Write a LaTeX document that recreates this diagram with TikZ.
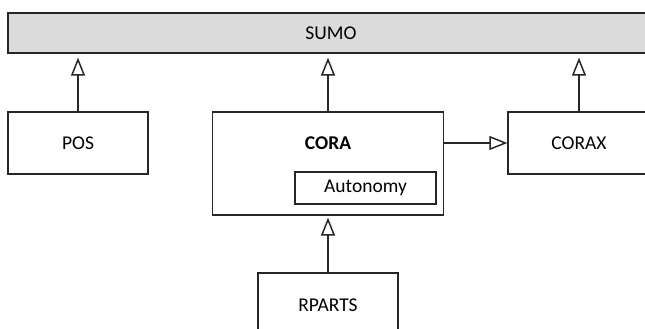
\documentclass[tikz,border=0pt]{standalone}
\usepackage{fontspec}
\setmainfont{Carlito}
\usetikzlibrary{arrows.meta}
\begin{document}
\begin{tikzpicture}[x=1pt,y=-1pt,
  font=\fontsize{19.5}{22}\selectfont,
  box/.style={draw=black!85, line width=1.3pt, fill=white, inner sep=0pt, minimum width=140pt, minimum height=62pt},
  bar/.style={draw=black!85, line width=1.3pt, fill=black!14!white, inner sep=0pt, minimum width=646pt, minimum height=40pt},
  gen/.style={draw=black!85, line width=1.8pt, -{Triangle[open, length=18pt, width=14pt, line width=1.5pt]}}
]
\useasboundingbox (0,0) rectangle (645,329);
\clip (0,0) rectangle (645,329);

% top-level ontology bar
\node[bar] (sumo) at (331,33) {SUMO};

% modules
\node[box] (pos) at (78,143) {POS};
\node[box, minimum width=231pt, minimum height=103pt] (cora) at (328,163.5) {};
\node[font=\fontsize{19.5}{22}\selectfont\bfseries] (coralbl) at (328,143) {CORA};
\node[box, minimum width=141pt, minimum height=32pt] (auto) at (365.5,188) {Autonomy};
\node[box, minimum width=142pt] (corax) at (579,143) {CORAX};
\node[box, minimum height=64pt] (rparts) at (328,305) {RPARTS};

% generalisation links
\draw[gen, shorten >=4pt] (pos.north) -- (pos.north |- sumo.south);
\draw[gen, shorten >=4pt] (cora.north) -- (cora.north |- sumo.south);
\draw[gen, shorten >=4pt] (corax.north) -- (corax.north |- sumo.south);
\draw[gen, shorten >=2pt] (rparts.north) -- (rparts.north |- cora.south);
\draw[gen] (cora.east |- corax.west) -- (corax.west);
\end{tikzpicture}
\end{document}
